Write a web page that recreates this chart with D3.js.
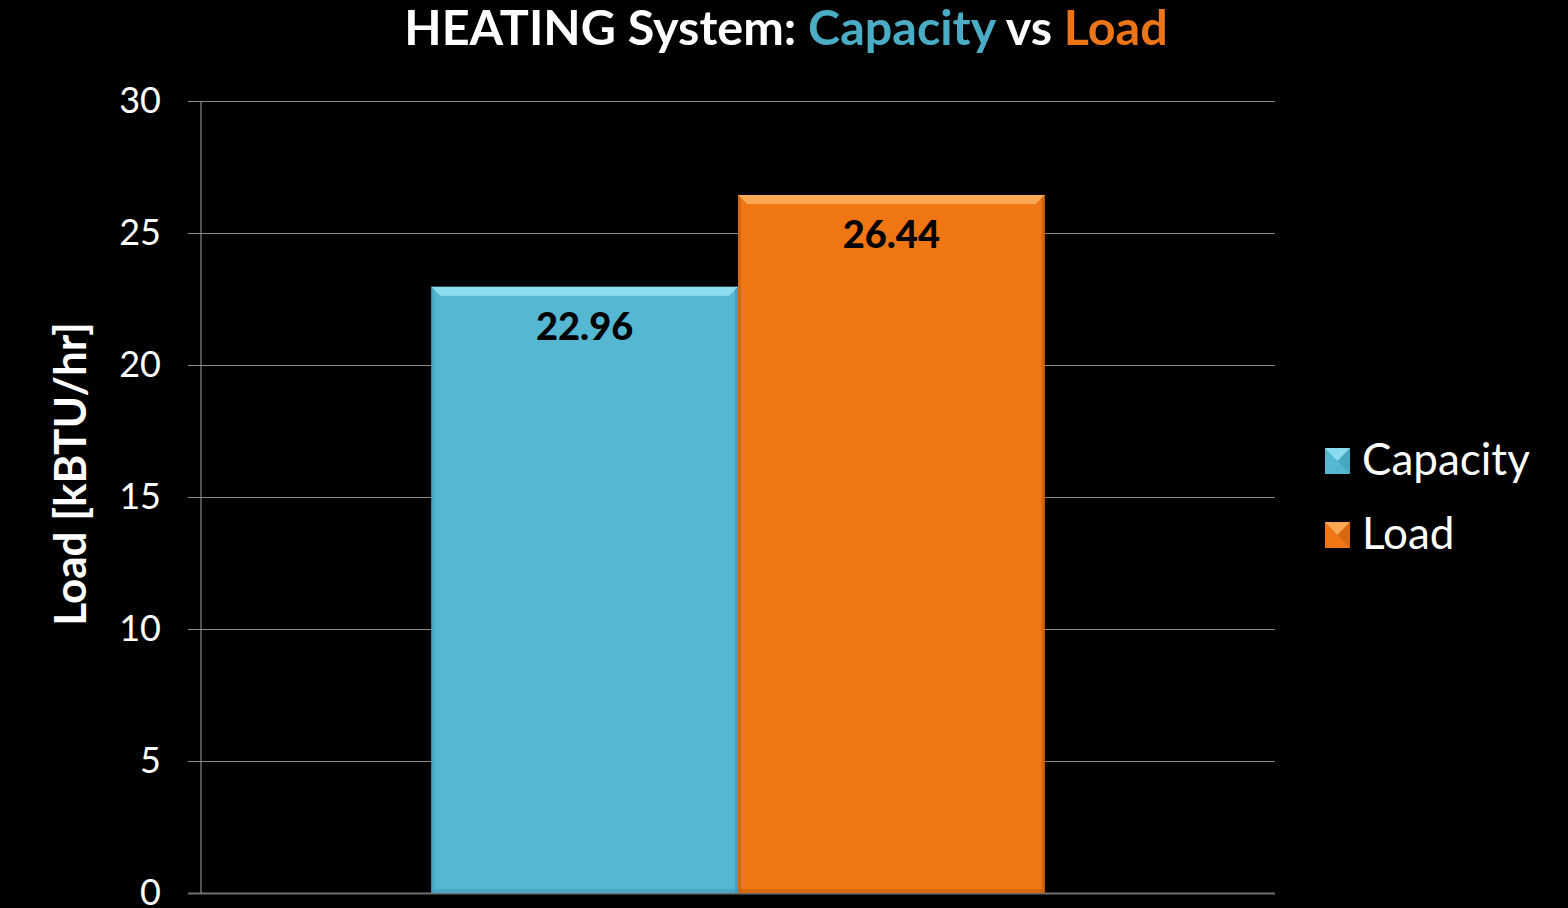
<!DOCTYPE html>
<html>
<head>
<meta charset="utf-8">
<script src="https://cdn.jsdelivr.net/npm/d3@7"></script>
<style>
  html, body { margin: 0; padding: 0; background: #000; }
  svg { display: block; }
</style>
</head>
<body>
<svg id="chart" width="1568" height="908"></svg>
<script>
// Heating system: capacity versus load, in kBTU/hr
const categories = ["Heating"];
const seriesNames = ["Capacity", "Load"];
const capacityValues = [22.96];
const loadValues = [26.44];
const yTicks = [0, 5, 10, 15, 20, 25, 30];

const colors = { Capacity: "#55b8d2", Load: "#f07614" };
const bevelTop = { Capacity: "#8cdcef", Load: "#fba854" };
const edgeDark = { Capacity: "#3f9bb5", Load: "#c85f0c" };
const titleColors = { Capacity: "#4bacc6", Load: "#ee7418" };

const FONT = "Lato, 'Open Sans', sans-serif";

const svg = d3.select("#chart");
const margin = { left: 201, right: 1275, top: 101, bottom: 893 };

const y = d3.scaleLinear().domain([0, 30]).range([margin.bottom, margin.top]);
const x0 = d3.scaleBand().domain(categories).range([margin.left, margin.right])
  .paddingInner(0.273).paddingOuter(0.273);
const x1 = d3.scaleBand().domain(seriesNames).range([0, x0.bandwidth()]);

const rows = categories.map((c, i) => ({
  category: c,
  values: [
    { name: "Capacity", value: capacityValues[i] },
    { name: "Load", value: loadValues[i] }
  ]
}));

// Gridlines and y axis with ticks on the left
const yAxis = d3.axisLeft(y).tickValues(yTicks).tickSize(-(margin.right - margin.left)).tickPadding(40);
const gAxis = svg.append("g").attr("transform", `translate(${margin.left},0)`).call(yAxis);
gAxis.select(".domain").remove();
gAxis.selectAll(".tick line")
  .attr("x1", -13)
  .attr("stroke", "#8a8a8a").attr("stroke-width", 1.2);
gAxis.selectAll(".tick text")
  .attr("fill", "#fff").attr("font-family", FONT).attr("font-size", 36);
gAxis.selectAll(".tick").filter(d => d === 0).select("line").attr("stroke", "#6e6e6e").attr("stroke-width", 2);
svg.append("line")
  .attr("x1", margin.left).attr("x2", margin.left)
  .attr("y1", y(30)).attr("y2", y(0))
  .attr("stroke", "#8a8a8a").attr("stroke-width", 1.2);

// Bars with a bevelled top edge
const bevel = 9;
const groups = svg.selectAll("g.cat").data(rows).join("g")
  .attr("class", "cat")
  .attr("transform", d => `translate(${x0(d.category)},0)`);

const bars = groups.selectAll("g.bar").data(d => d.values).join("g").attr("class", "bar");

bars.append("rect")
  .attr("x", d => x1(d.name)).attr("y", d => y(d.value))
  .attr("width", x1.bandwidth()).attr("height", d => y(0) - y(d.value))
  .attr("fill", d => colors[d.name]);
// dark side edges
bars.append("rect")
  .attr("x", d => x1(d.name)).attr("y", d => y(d.value))
  .attr("width", 3).attr("height", d => y(0) - y(d.value))
  .attr("fill", d => edgeDark[d.name]).attr("opacity", 0.6);
bars.append("rect")
  .attr("x", d => x1(d.name) + x1.bandwidth() - 3).attr("y", d => y(d.value))
  .attr("width", 3).attr("height", d => y(0) - y(d.value))
  .attr("fill", d => edgeDark[d.name]).attr("opacity", 0.8);
// bottom shading
bars.append("rect")
  .attr("x", d => x1(d.name)).attr("y", y(0) - 4)
  .attr("width", x1.bandwidth()).attr("height", 4)
  .attr("fill", d => edgeDark[d.name]).attr("opacity", 0.6);
// lighter top bevel
bars.append("path")
  .attr("d", d => {
    const xl = x1(d.name), xr = xl + x1.bandwidth(), yt = y(d.value);
    return `M${xl},${yt}L${xr},${yt}L${xr - bevel},${yt + bevel}L${xl + bevel},${yt + bevel}Z`;
  })
  .attr("fill", d => bevelTop[d.name]);

// Value labels inside the top of each bar
bars.append("text")
  .attr("x", d => x1(d.name) + x1.bandwidth() / 2)
  .attr("y", d => y(d.value) + 53)
  .attr("text-anchor", "middle")
  .attr("font-family", FONT).attr("font-weight", "900").attr("font-size", 38)
  .attr("fill", "#000")
  .text(d => d.value.toFixed(2));

// Title
const title = svg.append("text")
  .attr("x", 786).attr("y", 45)
  .attr("text-anchor", "middle")
  .attr("font-family", FONT).attr("font-weight", "bold").attr("font-size", 48.5)
  .attr("fill", "#fff");
title.append("tspan").text("HEATING System: ");
title.append("tspan").attr("fill", titleColors.Capacity).text("Capacity");
title.append("tspan").text(" vs ");
title.append("tspan").attr("fill", titleColors.Load).text("Load");

// Y axis title
svg.append("text")
  .attr("transform", `translate(86,${(323 + 625) / 2}) rotate(-90)`)
  .attr("text-anchor", "middle")
  .attr("font-family", FONT).attr("font-weight", "bold").attr("font-size", 44)
  .attr("fill", "#fff")
  .text("Load [kBTU/hr]");

// Legend
const legend = svg.append("g").attr("transform", "translate(1325,448)");
const li = legend.selectAll("g").data(seriesNames).join("g")
  .attr("transform", (d, i) => `translate(0,${i * 74})`);
li.append("rect").attr("width", 25).attr("height", 26).attr("fill", d => colors[d]);
li.append("path")
  .attr("d", "M0,0L25,0L12.5,13Z")
  .attr("fill", d => bevelTop[d]);
li.append("path")
  .attr("d", "M25,0L25,26L12.5,13Z")
  .attr("fill", d => edgeDark[d]).attr("opacity", 0.6);
li.append("text")
  .attr("x", 37).attr("y", 27)
  .attr("font-family", FONT).attr("font-size", 44)
  .attr("fill", "#fff")
  .text(d => d);
</script>
</body>
</html>
